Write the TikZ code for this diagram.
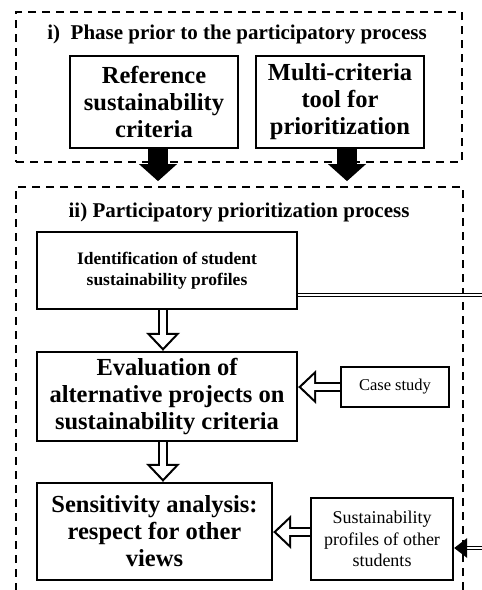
\documentclass[tikz,border=0pt]{standalone}
\usepackage{fontspec}
\setmainfont{Liberation Serif}
\usepackage{tikz}
\usetikzlibrary{arrows.meta, positioning, calc, backgrounds}

\tikzset{
  framebox/.style={draw, line width=1.8pt, dash pattern=on 8pt off 6pt, inner sep=0pt},
  stepbox/.style={draw, line width=2.4pt, align=center, inner sep=0pt},
  bigtxt/.style={font=\fontsize{24.5}{27}\selectfont\bfseries},
  midtxt/.style={font=\fontsize{17.5}{21}\selectfont\bfseries},
  smalltxt/.style={font=\fontsize{18}{21.5}\selectfont},
  titletxt/.style={font=\fontsize{21}{24}\selectfont\bfseries},
  % open block arrow: black outline, white inside
  hollowarrow/.style={draw=white, line width=5.4pt, shorten >=3.2pt,
    -{Triangle[width=24pt,length=12.6pt,line width=0pt]},
    preaction={draw=black, line width=10pt, shorten >=0pt,
      -{Triangle[width=34pt,length=18pt,line width=0pt]}}},
  solidarrow/.style={line width=20pt, -{Triangle[width=38pt,length=17pt,line width=0pt]}},
  doubleline/.style={double, double distance=2pt, line width=0.8pt}
}

\begin{document}
\begin{tikzpicture}[x=1pt, y=-1pt]
  \clip (0,0) rectangle (482,590);

  % the two phases
  \node[framebox, minimum width=446pt, minimum height=150pt] (phasei) at (239,87) {};
  \node[framebox, minimum width=447pt, minimum height=460pt] (phaseii) at (239.5,417) {};
  \node[titletxt] (titlei) at (237,34) {i)\ \ Phase prior to the participatory process};
  \node[titletxt] (titleii) at (239,212) {ii) Participatory prioritization process};

  % phase i
  \node[stepbox, bigtxt, minimum width=168pt, minimum height=92pt] (refcrit) at (154,102)
    {Reference\\sustainability\\criteria};
  \node[stepbox, bigtxt, minimum width=168pt, minimum height=92pt] (mctool) at (340,102)
    {Multi-criteria\\tool for\\prioritization};

  % phase ii
  \node[stepbox, midtxt, minimum width=260pt, minimum height=77pt] (ident) at (167,270.5)
    {Identification of student\\sustainability profiles};
  \node[stepbox, bigtxt, minimum width=260pt, minimum height=89pt] (evalp) at (167,396.5)
    {Evaluation of\\alternative projects on\\sustainability criteria};
  \node[stepbox, bigtxt, minimum width=235pt, minimum height=97pt] (sens) at (154.5,531.5)
    {Sensitivity analysis:\\respect for other\\views};
  \node[stepbox, smalltxt, font=\fontsize{16.5}{20}\selectfont, minimum width=108pt, minimum height=40pt] (casest) at (395,387)
    {Case study};
  \node[stepbox, smalltxt, minimum width=142pt, minimum height=82pt] (profiles) at (382,539)
    {Sustainability\\profiles of other\\students};

  \coordinate (outA) at (482,295);
  \coordinate (inB) at (482,548);

  \begin{scope}[on background layer]
    \draw[hollowarrow] ([xshift=-4pt]ident.south) -- ([xshift=-4pt]evalp.north);
    \draw[hollowarrow] ([xshift=-4pt]evalp.south) -- ([xshift=-4pt]evalp.south |- sens.north);
    \draw[hollowarrow] (casest.west) -- (casest.west -| evalp.east);
    \draw[hollowarrow] ([yshift=7pt]profiles.west) -- ([yshift=7pt]profiles.west -| sens.east);
  \end{scope}

  \draw[solidarrow] ([xshift=4pt]refcrit.south) -- ([xshift=4pt,yshift=5pt]refcrit.south |- phaseii.north);
  \draw[solidarrow] ([xshift=7pt]mctool.south) -- ([xshift=7pt,yshift=5pt]mctool.south |- phaseii.north);

  \draw[doubleline] (ident.east |- outA) -- (outA);
  \draw[doubleline, -{Triangle[width=20pt,length=13pt,line width=0pt]}] (inB) -- (inB -| profiles.east);
\end{tikzpicture}
\end{document}
